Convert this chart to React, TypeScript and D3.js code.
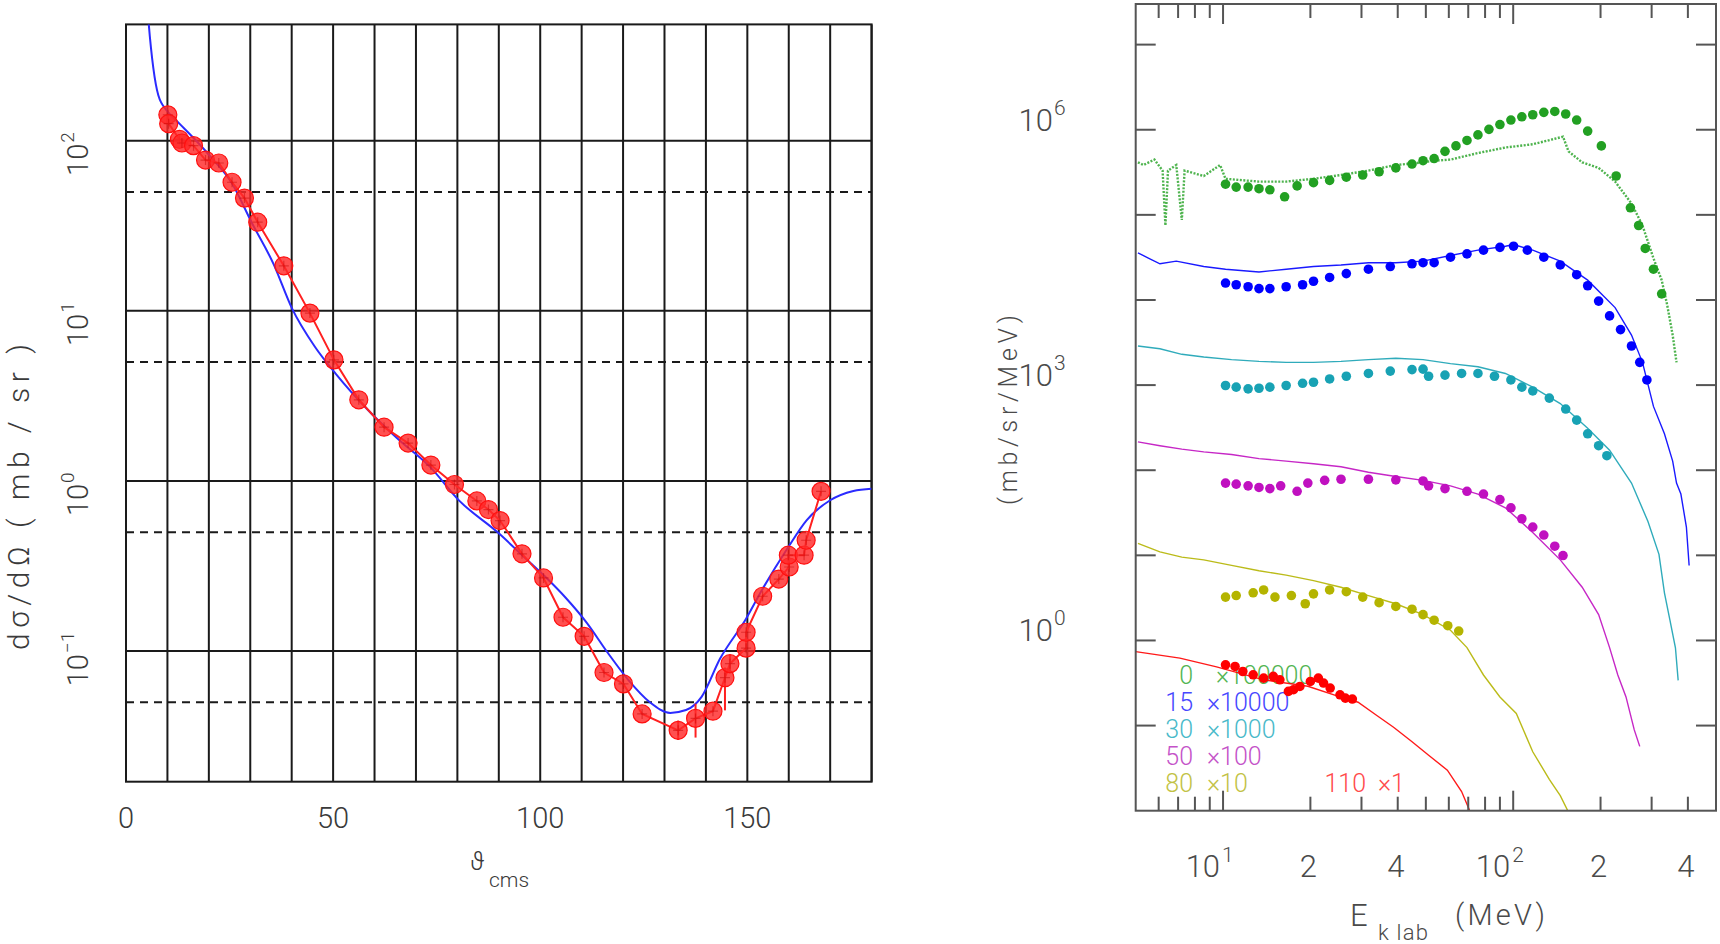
import React from 'react';
import * as d3 from 'd3';

// ---------- left panel: angular distribution ----------
const angleLabels = [0, 50, 100, 150];
const decadeLines = [0.1, 1, 10, 100];
const halfDecadeLines = [0.05, 0.5, 5, 50];
const decadeExp = ['\u22121', '0', '1', '2'];

// measured points [theta_cms, dsigma/dOmega]
const measured: [number, number][] = [
  [10.1, 142], [10.3, 126], [12.9, 102], [13.5, 97], [16.3, 93.6], [19.2, 77],
  [22.4, 74], [25.6, 57], [28.6, 46], [31.8, 33.2], [38.1, 18.4], [44.4, 9.7],
  [50.2, 5.15], [56.2, 3.0], [62.3, 2.07], [68.1, 1.67], [73.6, 1.24], [79.3, 0.953],
  [84.7, 0.763], [87.5, 0.679], [90.3, 0.585], [95.6, 0.373], [100.8, 0.269],
  [105.5, 0.158], [110.6, 0.122], [115.4, 0.0748], [120.1, 0.0641], [124.6, 0.0427],
  [133.3, 0.0342], [137.5, 0.0402], [141.7, 0.0443], [144.6, 0.0697], [145.8, 0.0843],
  [149.7, 0.104], [149.7, 0.129], [153.7, 0.21], [157.6, 0.265], [160.1, 0.312],
  [159.9, 0.366], [163.7, 0.366], [164.2, 0.448], [167.8, 0.869]
];
// visible error bars [theta, low, high]
const measuredErr: [number, number, number][] = [
  [133.3, 0.030, 0.039], [137.5, 0.031, 0.049], [144.6, 0.0448, 0.08], [145.8, 0.074, 0.095]
];
// calculation
const calcCurve: [number, number][] = [
  [5.0, 700], [5.5, 483], [6.6, 267], [7.8, 185], [10.1, 148], [12.9, 126], [16.6, 102],
  [20.4, 80.7], [25.5, 56.6], [30.5, 32.5], [35.6, 18.9], [40.1, 10.3], [45.6, 6.15],
  [50.7, 4.25], [58.3, 2.63], [65.8, 1.75], [73.4, 1.21], [80.5, 0.764], [89.8, 0.497],
  [96.1, 0.357], [101.1, 0.275], [106.2, 0.205], [111.2, 0.147], [116.3, 0.0977],
  [121.3, 0.0675], [126.4, 0.0502], [131.4, 0.0433], [135.2, 0.045], [139, 0.054],
  [143.4, 0.09], [149.7, 0.155], [153.5, 0.228], [159.9, 0.409], [164.3, 0.587],
  [170, 0.77], [175.6, 0.873], [180, 0.9]
];

// ---------- right panel: energy spectra (raw values, scaled per angle) ----------
const spectrumAngles = [0, 15, 30, 50, 80, 110];
const spectrumScales = [1e5, 1e4, 1e3, 1e2, 10, 1];
const scaleLabels = ['\u00d7100000', '\u00d710000', '\u00d71000', '\u00d7100', '\u00d710', '\u00d71'];
const spectrumColors = ['#22a022', '#0000ff', '#18a2b4', '#c010c0', '#b4b400', '#ff0000'];
const legendColors = ['#52b552', '#4646ff', '#48b9c9', '#c452c8', '#c2c245', '#ff4a4a'];

const theory0: [number, number][] = [
  [5.09, 4.14], [5.32, 3.85], [5.8, 4.46], [6.19, 3.31], [6.33, 0.75], [6.46, 3.31], [6.9, 3.85],
  [7.21, 0.87], [7.37, 3.31], [8.58, 2.86], [9.77, 3.85], [10.2, 2.65], [13.3, 2.46], [16.5, 2.46],
  [20.5, 2.65], [25.5, 2.94], [31.7, 3.31], [39.4, 3.85], [48.9, 4.14], [53.4, 4.33], [60.8, 4.46],
  [75.6, 5.32], [94, 6.18], [116.8, 6.75], [139.1, 7.83], [148.5, 8.3], [155.1, 5.57], [172.9, 4.14],
  [197, 3.56], [224.5, 2.46], [255.7, 1.36], [279, 0.75], [304.4, 0.309], [324.9, 0.171],
  [339.4, 0.0875], [354.5, 0.0387], [365.5, 0.0185]
];
const dots0: [number, number][] = [
  [10.2, 2.29], [11.1, 2.12], [12.2, 2.12], [13.3, 2.03], [14.5, 1.97], [16.3, 1.63], [18, 2.19],
  [20.5, 2.39], [23.3, 2.54], [26.6, 2.77], [30.3, 2.94], [34.5, 3.21], [39.4, 3.56], [44.8, 3.95],
  [48.9, 4.33], [53.4, 4.59], [58.2, 5.57], [63.5, 6.46], [69.3, 7.48], [75.6, 8.69], [82.5, 10.1],
  [90, 11.5], [98.2, 13.0], [107.1, 14.2], [116.8, 15.0], [127.5, 16.0], [139.1, 16.4],
  [151.7, 15.3], [165.5, 13.0], [180.6, 9.64], [201.3, 6.46], [226.4, 2.86], [253.5, 1.21],
  [270.6, 0.75], [285.2, 0.403], [304.4, 0.23], [324.9, 0.118]
];
const theory15: [number, number][] = [
  [5.09, 3.58], [5.55, 3.09], [6.06, 2.66], [6.9, 2.86], [8.58, 2.47], [10.2, 2.3], [13.3, 2.13],
  [16.5, 2.3], [20.5, 2.47], [25.5, 2.58], [31.7, 2.74], [39.4, 2.74], [48.9, 2.86], [60.8, 3.33],
  [75.6, 3.85], [94, 4.28], [100.3, 4.48], [116.8, 3.85], [145.3, 2.86], [180.6, 1.71],
  [224.5, 0.813], [255.7, 0.387], [279, 0.185], [291.4, 0.102], [304.4, 0.0562], [332.1, 0.0268],
  [354.5, 0.0128], [365.5, 0.00706], [378.4, 0.00525], [395.3, 0.00215], [404, 0.00076]
];
const dots15: [number, number][] = [
  [10.2, 1.58], [11.1, 1.51], [12.2, 1.43], [13.3, 1.36], [14.5, 1.36], [16.5, 1.43], [18.8, 1.51],
  [20.5, 1.66], [23.3, 1.84], [26.6, 2.04], [31.7, 2.3], [37.7, 2.47], [44.8, 2.66], [48.9, 2.74],
  [53.4, 2.74], [60.8, 3.18], [69.3, 3.48], [79, 3.85], [90, 4.15], [100.3, 4.28], [111.9, 3.85],
  [127.5, 3.18], [145.3, 2.58], [165.5, 1.98], [180.6, 1.47], [197, 0.97], [214.9, 0.65],
  [234.4, 0.449], [255.7, 0.288], [273, 0.185], [288.9, 0.115]
];
const theory30: [number, number][] = [
  [5.09, 2.88], [6.06, 2.67], [7.21, 2.3], [8.58, 2.14], [10.7, 1.99], [13.3, 1.9], [16.5, 1.85],
  [20.5, 1.85], [25.5, 1.9], [31.7, 1.99], [39.4, 2.07], [48.9, 1.99], [60.8, 1.79], [75.6, 1.64],
  [94, 1.37], [107.1, 1.1], [116.8, 0.946], [145.3, 0.607], [180.6, 0.311], [214.9, 0.172],
  [255.7, 0.0706], [291.4, 0.025], [318, 0.01026], [332.1, 0.00363], [346.9, 0.00173],
  [362.4, 0.00082], [370.3, 0.00034]
];
const dots30: [number, number][] = [
  [10.2, 0.989], [11.1, 0.946], [12.2, 0.904], [13.3, 0.918], [14.5, 0.946], [16.5, 0.989],
  [18.8, 1.05], [20.5, 1.08], [23.3, 1.18], [26.6, 1.27], [31.7, 1.37], [37.7, 1.46], [44.8, 1.52],
  [48.9, 1.54], [51.1, 1.27], [58.2, 1.31], [66.4, 1.37], [75.6, 1.37], [86.2, 1.27], [98.2, 1.15],
  [107.1, 0.946], [116.8, 0.853], [133.2, 0.703], [151.7, 0.523], [165.5, 0.388], [180.6, 0.268],
  [197, 0.194], [210.3, 0.148]
];
const theory50: [number, number][] = [
  [5.09, 2.15], [6.06, 1.94], [7.21, 1.77], [8.58, 1.64], [10.7, 1.53], [13.3, 1.37], [16.5, 1.28],
  [20.5, 1.19], [25.5, 1.1], [31.7, 0.948], [39.4, 0.843], [48.9, 0.76], [60.8, 0.655], [75.6, 0.525],
  [94, 0.362], [116.8, 0.186], [145.3, 0.0885], [172.9, 0.0422], [197, 0.0201], [214.9, 0.00824],
  [229.4, 0.00393], [244.8, 0.00217], [261.4, 0.00089], [273, 0.00057]
];
const dots50: [number, number][] = [
  [10.2, 0.706], [11.1, 0.686], [12.2, 0.655], [13.3, 0.627], [14.5, 0.608], [15.8, 0.655],
  [18, 0.565], [19.6, 0.706], [22.4, 0.76], [25.5, 0.783], [31.7, 0.783], [39.4, 0.771],
  [48.9, 0.748], [51.1, 0.655], [58.2, 0.608], [69.3, 0.565], [79, 0.525], [90, 0.452],
  [98.2, 0.362], [107.1, 0.269], [116.8, 0.215], [127.5, 0.173], [139.1, 0.128], [148.5, 0.0995]
];
const theory80: [number, number][] = [
  [5.09, 1.38], [6.06, 1.1], [7.21, 0.953], [8.58, 0.885], [10.7, 0.762], [13.3, 0.658],
  [16.5, 0.585], [20.5, 0.504], [25.5, 0.422], [31.7, 0.337], [39.4, 0.27], [48.9, 0.201],
  [60.8, 0.132], [69.3, 0.0824], [79, 0.0393], [90, 0.0217], [102.5, 0.0139], [116.8, 0.00492],
  [133.2, 0.00234], [145.3, 0.0015], [155.1, 0.00096]
];
const dots80: [number, number][] = [
  [10.2, 0.323], [11.1, 0.337], [12.7, 0.363], [13.8, 0.392], [15.1, 0.323], [17.2, 0.337],
  [19.2, 0.27], [20.5, 0.353], [23.3, 0.392], [26.6, 0.374], [30.3, 0.323], [34.5, 0.278],
  [39.4, 0.251], [44.8, 0.233], [48.9, 0.201], [53.4, 0.173], [59.5, 0.149], [64.9, 0.129]
];
const theory110: [number, number][] = [
  [5.0, 0.74], [7.1, 0.62], [9.5, 0.49], [13.8, 0.345], [19.6, 0.29], [25.3, 0.217], [29.2, 0.188],
  [33.6, 0.134], [38.7, 0.0955], [44.7, 0.0649], [51.5, 0.044], [59.3, 0.0299], [66.4, 0.0168],
  [71, 0.0098]
];
const dots110: [number, number][] = [
  [10.2, 0.518], [11.0, 0.495], [11.7, 0.432], [12.7, 0.395], [13.8, 0.361], [14.9, 0.378],
  [15.7, 0.345], [16.8, 0.252], [17.5, 0.264], [18.4, 0.288], [20.0, 0.33], [21.3, 0.361],
  [22.2, 0.316], [23.4, 0.276], [25.3, 0.23], [26.4, 0.21], [27.9, 0.205]
];
const spectrumTheory = [theory0, theory15, theory30, theory50, theory80, theory110];
const spectrumDots = [dots0, dots15, dots30, dots50, dots80, dots110];

const yDecades = [1e-1, 1, 10, 100, 1e3, 1e4, 1e5, 1e6, 1e7];
const yLabelled = [[1, '0'], [1e3, '3'], [1e6, '6']] as const;
const eMajor = [10, 100];
const eMinor = [6, 7, 8, 9, 20, 30, 40, 50, 60, 70, 80, 90, 200, 300, 400];
const eLabels: [number, string, string][] = [
  [10, '10', '1'], [20, '2', ''], [40, '4', ''], [100, '10', '2'], [200, '2', ''], [400, '4', '']
];

const FONT = 'Roboto, "DejaVu Sans", sans-serif';

export default function App() {
  // scales
  const xL = d3.scaleLinear().domain([0, 180]).range([126, 871.6]);
  const yL = d3.scaleLog().domain([0.01706, 483]).range([781.7, 24.4]);
  const xR = d3.scaleLog().domain([5, 500]).range([1135.7, 1716]);
  const yR = d3.scaleLog().domain([1e-2, 3e7]).range([810.7, 4]);

  const [l0, l1] = xL.range();
  const [b0, t0] = yL.range();
  const [r0, r1] = xR.range();
  const [b1, t1] = yR.range();

  const redLine = d3.line<[number, number]>().x(d => xL(d[0])).y(d => yL(d[1]));
  const blueLine = d3.line<[number, number]>().x(d => xL(d[0])).y(d => yL(d[1])).curve(d3.curveMonotoneX);

  const gridAngles = xL.ticks(18);

  return (
    <div style={{ position: 'absolute', left: 0, top: 0, background: '#fff' }}>
      <svg width={1720} height={944} style={{ display: 'block', fontFamily: FONT }}>
        <defs>
          <clipPath id="clipL"><rect x={l0} y={t0} width={l1 - l0} height={b0 - t0} /></clipPath>
          <clipPath id="clipR"><rect x={r0} y={t1} width={r1 - r0} height={b1 - t1} /></clipPath>
        </defs>
        <rect width={1720} height={944} fill="#fff" />

        {/* ---------- left panel ---------- */}
        <g stroke="#1a1a1a" strokeWidth={2}>
          {gridAngles.map(a => (
            <line key={'v' + a} x1={xL(a)} x2={xL(a)} y1={t0} y2={b0} />
          ))}
          {decadeLines.map(v => (
            <line key={'h' + v} x1={l0} x2={l1} y1={yL(v)} y2={yL(v)} />
          ))}
          {halfDecadeLines.map(v => (
            <line key={'d' + v} x1={l0} x2={l1} y1={yL(v)} y2={yL(v)} strokeDasharray="8 6" />
          ))}
          <rect x={l0} y={t0} width={l1 - l0} height={b0 - t0} fill="none" />
        </g>
        <g fill="#3a3a3a" fontWeight={300}>
          {angleLabels.map(a => (
            <text key={a} x={xL(a)} y={828} fontSize={29} textAnchor="middle">{a}</text>
          ))}
          {decadeLines.map((v, i) => (
            <g key={v} transform={`translate(88,${yL(v) + 3}) rotate(-90)`}>
              <text textAnchor="end" fontSize={29}>10</text>
              <text x={1} y={-14} fontSize={19}>{decadeExp[i]}</text>
            </g>
          ))}
          <text transform="translate(29,497) rotate(-90)" textAnchor="middle" fontSize={30}
            textLength={306} lengthAdjust="spacing">d&#963;/d&#937; ( mb / sr )</text>
          <text x={470} y={870} fontSize={25}>&#977;</text>
          <text x={489} y={887} fontSize={21}>cms</text>
        </g>
        <g clipPath="url(#clipL)">
          <path d={blueLine(calcCurve) || ''} fill="none" stroke="#2b2bff" strokeWidth={2} />
          <path d={redLine(measured) || ''} fill="none" stroke="#ff2020" strokeWidth={2} />
          {measuredErr.map(([a, lo, hi], i) => (
            <line key={'e' + i} x1={xL(a)} x2={xL(a)} y1={yL(lo)} y2={yL(hi)} stroke="#ff2020" strokeWidth={2} />
          ))}
          {measured.map(([a, v], i) => (
            <g key={'m' + i} transform={`translate(${xL(a)},${yL(v)})`}>
              <circle r={9} fill="#ff2a2a" fillOpacity={0.82} stroke="#ff1010" strokeWidth={1.2} />
              <path d="M-5,0H5M0,-5V5" stroke="#c00000" strokeOpacity={0.45} strokeWidth={1.2} />
            </g>
          ))}
        </g>

        {/* ---------- right panel ---------- */}
        <g fontWeight={300}>
          {spectrumAngles.map((ang, i) => {
            const x0 = i < 5 ? 1193 : 1366;
            const y0 = i < 5 ? 684 + 27 * i : 792;
            const xm = i === 0 ? 1216 : i < 5 ? 1207 : 1378;
            return (
              <g key={'lg' + ang} fill={legendColors[i]} fontSize={25}>
                <text x={x0} y={y0} textAnchor="end">{ang}</text>
                <text x={xm} y={y0}>{scaleLabels[i]}</text>
              </g>
            );
          })}
        </g>
        <g clipPath="url(#clipR)">
          {spectrumAngles.map((ang, i) => {
            const s = spectrumScales[i];
            const ln = d3.line<[number, number]>().x(d => xR(d[0])).y(d => yR(d[1] * s));
            return (
              <path key={'th' + ang} d={ln(spectrumTheory[i]) || ''} fill="none"
                stroke={spectrumColors[i]} strokeWidth={i === 0 ? 2.4 : 1.4}
                strokeDasharray={i === 0 ? '2 1.5' : undefined} strokeOpacity={i === 0 ? 0.8 : 0.9} />
            );
          })}
          {spectrumAngles.map((ang, i) => {
            const s = spectrumScales[i];
            return (
              <g key={'dt' + ang} fill={spectrumColors[i]}>
                {spectrumDots[i].map(([e, v], j) => (
                  <circle key={j} cx={xR(e)} cy={yR(v * s)} r={4.8} />
                ))}
              </g>
            );
          })}
        </g>
        <g stroke="#555" strokeWidth={2} fill="none">
          <rect x={r0} y={t1} width={r1 - r0} height={b1 - t1} />
          {yDecades.map(v => (
            <g key={'yt' + v}>
              <line x1={r0} x2={r0 + 20} y1={yR(v)} y2={yR(v)} />
              <line x1={r1 - 20} x2={r1} y1={yR(v)} y2={yR(v)} />
            </g>
          ))}
          {eMajor.map(e => (
            <g key={'xM' + e}>
              <line x1={xR(e)} x2={xR(e)} y1={b1} y2={b1 - 20} />
              <line x1={xR(e)} x2={xR(e)} y1={t1} y2={t1 + 20} />
            </g>
          ))}
          {eMinor.map(e => (
            <g key={'xm' + e}>
              <line x1={xR(e)} x2={xR(e)} y1={b1} y2={b1 - 14} />
              <line x1={xR(e)} x2={xR(e)} y1={t1} y2={t1 + 14} />
            </g>
          ))}
        </g>
        <g fill="#4a4a4a" fontWeight={300}>
          {yLabelled.map(([v, ex]) => (
            <g key={'yl' + v}>
              <text x={1053} y={yR(v) + 1} textAnchor="end" fontSize={31}>10</text>
              <text x={1054} y={yR(v) - 15} fontSize={21}>{ex}</text>
            </g>
          ))}
          {eLabels.map(([e, base, ex]) => (
            ex ? (
              <g key={'el' + e}>
                <text x={xR(e) - 3} y={877} textAnchor="end" fontSize={31}>{base}</text>
                <text x={xR(e) - 1} y={862} fontSize={21}>{ex}</text>
              </g>
            ) : (
              <text key={'el' + e} x={xR(e) - 2} y={877} textAnchor="middle" fontSize={31}>{base}</text>
            )
          ))}
          <text transform="translate(1017,410) rotate(-90)" textAnchor="middle" fontSize={25}
            textLength={190} lengthAdjust="spacing">(mb/sr/MeV)</text>
          <text x={1350} y={926} fontSize={31}>E</text>
          <text x={1378} y={940} fontSize={22} textLength={50} lengthAdjust="spacing">k lab</text>
          <text x={1455} y={925} fontSize={29} textLength={90} lengthAdjust="spacing">(MeV)</text>
        </g>
      </svg>
    </div>
  );
}
